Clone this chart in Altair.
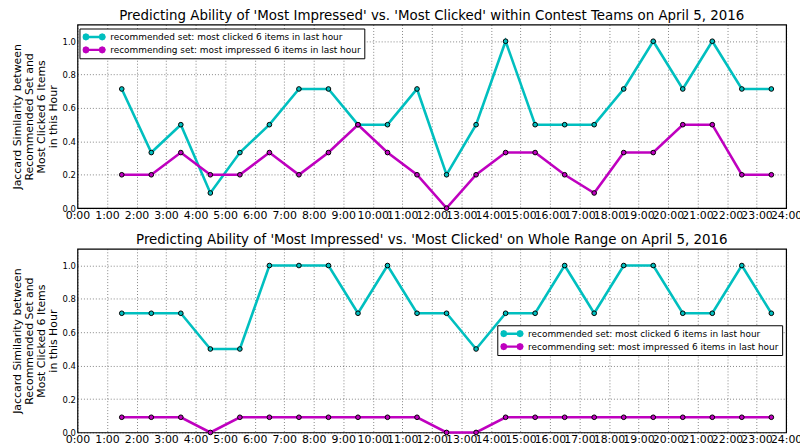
import altair as alt
import pandas as pd

hours = [1.5, 2.5, 3.5, 4.5, 5.5, 6.5, 7.5, 8.5, 9.5, 10.5, 11.5, 12.5,
         13.5, 14.5, 15.5, 16.5, 17.5, 18.5, 19.5, 20.5, 21.5, 22.5, 23.5]

series_names = ["recommended set: most clicked 6 items in last hour",
                "recommending set: most impressed 6 items in last hour"]
series_colors = ["#00BFBF", "#BF00BF"]

top_clicked = [0.714, 0.333, 0.5, 0.0909, 0.333, 0.5, 0.714, 0.714, 0.5, 0.5, 0.714, 0.2,
               0.5, 1.0, 0.5, 0.5, 0.5, 0.714, 1.0, 0.714, 1.0, 0.714, 0.714]
top_impressed = [0.2, 0.2, 0.333, 0.2, 0.2, 0.333, 0.2, 0.333, 0.5, 0.333, 0.2, 0.0,
                 0.2, 0.333, 0.333, 0.2, 0.0909, 0.333, 0.333, 0.5, 0.5, 0.2, 0.2]
bot_clicked = [0.714, 0.714, 0.714, 0.5, 0.5, 1.0, 1.0, 1.0, 0.714, 1.0, 0.714, 0.714,
               0.5, 0.714, 0.714, 1.0, 0.714, 1.0, 1.0, 0.714, 0.714, 1.0, 0.714]
bot_impressed = [0.0909, 0.0909, 0.0909, 0.0, 0.0909, 0.0909, 0.0909, 0.0909, 0.0909, 0.0909, 0.0909, 0.0,
                 0.0, 0.0909, 0.0909, 0.0909, 0.0909, 0.0909, 0.0909, 0.0909, 0.0909, 0.0909, 0.0909]

x_ticks = list(range(0, 25))
y_ticks = [0.0, 0.2, 0.4, 0.6, 0.8, 1.0]

titles = ["Predicting Ability of 'Most Impressed' vs. 'Most Clicked'  within Contest Teams on April 5, 2016",
          "Predicting Ability of 'Most Impressed' vs. 'Most Clicked' on Whole Range on April 5, 2016"]
y_title = ["Jaccard Similarity between", "Recommended Set and", "Most Clicked 6 Items", "in this Hour"]

FONT = "DejaVu Sans"


def octagon(cx, r):
    d = r * 0.7071
    pts = [(cx + r, 0), (cx + d, d), (cx, r), (cx - d, d), (cx - r, 0),
           (cx - d, -d), (cx, -r), (cx + d, -d)]
    return "M" + "L".join(f"{px:.3f},{py:.3f}" for px, py in pts) + "Z"


# legend glyph: short line with a small circle at each end
SYMBOL = "M-0.5,0L3.6,0" + octagon(-0.5, 0.6) + octagon(3.6, 0.6)

PH = 185


def panel(clicked, impressed, title, lx, ly):
    df = pd.DataFrame({
        "hour": hours + hours,
        "value": clicked + impressed,
        "series": [series_names[0]] * len(hours) + [series_names[1]] * len(hours),
    })
    x = alt.X("hour:Q", scale=alt.Scale(domain=[0, 24], nice=False, zero=False),
              axis=alt.Axis(values=x_ticks, title=None, labelExpr="datum.value + ':00'",
                            labelOverlap=False, labelFlush=False, labelBound=False,
                            labelFontSize=11, labelPadding=1, ticks=False,
                            grid=True, domain=False))
    y = alt.Y("value:Q", scale=alt.Scale(domain=[0, 1.1], nice=False),
              axis=alt.Axis(values=y_ticks, format=".1f", title=y_title,
                            labelFontSize=8.5, labelPadding=2, ticks=False, domain=False,
                            titleFontSize=11, titleFontWeight="normal", titleLineHeight=11.8,
                            titlePadding=4, grid=True))
    line = alt.Chart(df).mark_line(strokeWidth=2.6).encode(
        x=x, y=y,
        color=alt.Color("series:N", scale=alt.Scale(domain=series_names, range=series_colors),
                        legend=alt.Legend(title=None, orient="none", legendX=lx, legendY=ly,
                                          direction="vertical", symbolType=SYMBOL,
                                          symbolSize=64, symbolStrokeWidth=2.4,
                                          clipHeight=11,
                                          labelFontSize=9, labelFont=FONT, labelLimit=0,
                                          strokeColor="black", fillColor="white",
                                          padding=3, rowPadding=2, cornerRadius=0,
                                          labelOffset=17)),
    )
    pts = alt.Chart(df).mark_point(filled=True, size=22, stroke="black", strokeWidth=1,
                                   opacity=1).encode(
        x=x, y=y,
        fill=alt.Fill("series:N", scale=alt.Scale(domain=series_names, range=series_colors),
                      legend=None),
    )
    return alt.layer(line, pts).properties(
        width=714, height=PH,
        title=alt.TitleParams(title, fontSize=13.5, font=FONT, fontWeight="normal",
                              anchor="middle", offset=2),
    )


top = panel(top_clicked, top_impressed, titles[0], 2, 4)
bottom = panel(bot_clicked, bot_impressed, titles[1], 423, 77)

chart = alt.vconcat(top, bottom, spacing=11).resolve_scale(color="independent", fill="independent") \
    .properties(padding={"left": 3, "top": -2, "right": -3, "bottom": 0}) \
    .configure(font=FONT) \
    .configure_view(stroke="black", strokeWidth=1.2) \
    .configure_axis(gridColor="black", gridDash=[1, 2], gridOpacity=0.6, gridWidth=0.8,
                    labelColor="black", titleColor="black", labelFont=FONT, titleFont=FONT)

chart.save("out.html", embed_options={"renderer": "svg", "actions": False})
